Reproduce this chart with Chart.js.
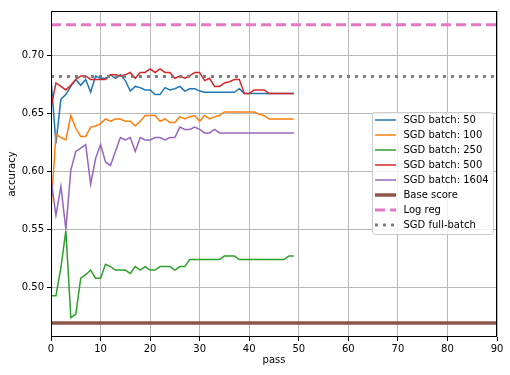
<!DOCTYPE html>
<html lang="en">

<head>
    <meta charset="UTF-8">
    <title>SGD accuracy by pass</title>
    <script src="https://cdn.jsdelivr.net/npm/chart.js"></script>
    <style>
        body { margin: 0; background: #fff; }
        #wrap { width: 510px; height: 375px; }
    </style>
</head>

<body>
    <div id="wrap"><canvas id="grafico" width="510" height="375"></canvas></div>

    <script>
        // pass numbers (x)
        const passes = [0, 1, 2, 3, 4, 5, 6, 7, 8, 9, 10, 11, 12, 13, 14, 15, 16, 17, 18, 19,
            20, 21, 22, 23, 24, 25, 26, 27, 28, 29, 30, 31, 32, 33, 34, 35, 36, 37, 38, 39,
            40, 41, 42, 43, 44, 45, 46, 47, 48, 49];

        // accuracy per pass, one array per batch size
        const batch50 = [0.680, 0.624, 0.662, 0.666, 0.673, 0.679, 0.674, 0.679, 0.668, 0.682,
            0.680, 0.680, 0.683, 0.680, 0.683, 0.678, 0.669, 0.673, 0.672, 0.670,
            0.670, 0.666, 0.666, 0.672, 0.670, 0.671, 0.673, 0.669, 0.671, 0.671,
            0.669, 0.668, 0.668, 0.668, 0.668, 0.668, 0.668, 0.668, 0.671, 0.667,
            0.667, 0.667, 0.667, 0.667, 0.667, 0.667, 0.667, 0.667, 0.667, 0.667];
        const batch100 = [0.567, 0.632, 0.629, 0.627, 0.648, 0.637, 0.630, 0.630, 0.638, 0.639,
            0.641, 0.645, 0.643, 0.645, 0.645, 0.643, 0.643, 0.639, 0.643, 0.648,
            0.648, 0.648, 0.643, 0.645, 0.642, 0.642, 0.647, 0.645, 0.647, 0.648,
            0.643, 0.648, 0.645, 0.647, 0.648, 0.651, 0.651, 0.651, 0.651, 0.651,
            0.651, 0.651, 0.649, 0.648, 0.645, 0.645, 0.645, 0.645, 0.645, 0.645];
        const batch250 = [0.493, 0.493, 0.517, 0.549, 0.474, 0.477, 0.508, 0.511, 0.515, 0.508,
            0.508, 0.520, 0.518, 0.515, 0.515, 0.515, 0.512, 0.518, 0.515, 0.518,
            0.515, 0.515, 0.518, 0.518, 0.518, 0.515, 0.518, 0.518, 0.524, 0.524,
            0.524, 0.524, 0.524, 0.524, 0.524, 0.527, 0.527, 0.527, 0.524, 0.524,
            0.524, 0.524, 0.524, 0.524, 0.524, 0.524, 0.524, 0.524, 0.527, 0.527];
        const batch500 = [0.655, 0.676, 0.673, 0.670, 0.674, 0.679, 0.682, 0.682, 0.679, 0.679,
            0.679, 0.679, 0.683, 0.683, 0.682, 0.683, 0.685, 0.680, 0.685, 0.685,
            0.688, 0.685, 0.688, 0.685, 0.685, 0.680, 0.682, 0.680, 0.682, 0.685,
            0.685, 0.678, 0.680, 0.673, 0.673, 0.676, 0.677, 0.679, 0.679, 0.667,
            0.667, 0.670, 0.670, 0.670, 0.667, 0.667, 0.667, 0.667, 0.667, 0.667];
        const batch1604 = [0.593, 0.562, 0.587, 0.550, 0.601, 0.617, 0.620, 0.623, 0.589, 0.611,
            0.623, 0.608, 0.605, 0.617, 0.629, 0.627, 0.629, 0.617, 0.629, 0.627,
            0.627, 0.629, 0.629, 0.627, 0.629, 0.629, 0.638, 0.636, 0.636, 0.638,
            0.636, 0.633, 0.633, 0.636, 0.633, 0.633, 0.633, 0.633, 0.633, 0.633,
            0.633, 0.633, 0.633, 0.633, 0.633, 0.633, 0.633, 0.633, 0.633, 0.633];

        // reference levels (drawn across the whole x range)
        const baseScore = 0.4695;
        const logReg = 0.7261;
        const fullBatch = 0.6815;

        const xRange = [0, 90];
        const xTicks = [0, 10, 20, 30, 40, 50, 60, 70, 80, 90];
        const yTicks = [0.50, 0.55, 0.60, 0.65, 0.70];

        const pts = (vals) => vals.map((v, i) => ({ x: passes[i], y: v }));
        const flat = (v) => xRange.map((x) => ({ x: x, y: v }));

        Chart.defaults.font.family = "'DejaVu Sans', sans-serif";
        Chart.defaults.font.size = 10;
        Chart.defaults.color = "#000";

        const series = [
            { label: "SGD batch: 50", data: pts(batch50), borderColor: "#1f77b4", borderWidth: 1.5 },
            { label: "SGD batch: 100", data: pts(batch100), borderColor: "#ff7f0e", borderWidth: 1.5 },
            { label: "SGD batch: 250", data: pts(batch250), borderColor: "#2ca02c", borderWidth: 1.5 },
            { label: "SGD batch: 500", data: pts(batch500), borderColor: "#d62728", borderWidth: 1.5 },
            { label: "SGD batch: 1604", data: pts(batch1604), borderColor: "#9467bd", borderWidth: 1.5 },
            { label: "Base score", data: flat(baseScore), borderColor: "#8c564b", borderWidth: 3.5 },
            { label: "Log reg", data: flat(logReg), borderColor: "#e377c2", borderWidth: 3, borderDash: [10, 5] },
            { label: "SGD full-batch", data: flat(fullBatch), borderColor: "#7f7f7f", borderWidth: 3, borderDash: [3, 5] },
        ];
        series.forEach((ds, i) => {
            ds.pointRadius = 0;
            ds.tension = 0;
            ds.fill = false;
            ds.order = series.length - i; // later ones on top
        });

        // frame around the plot area
        const frame = {
            id: "frame",
            afterDatasetsDraw(chart) {
                const { ctx, chartArea: a } = chart;
                ctx.save();
                ctx.strokeStyle = "#000";
                ctx.lineWidth = 1;
                const l = Math.round(a.left) + 0.5, t = Math.round(a.top) + 0.5;
                const r = Math.round(a.right) - 0.5, b = Math.round(a.bottom) - 0.5;
                ctx.strokeRect(l, t, r - l, b - t);
                ctx.restore();
            },
        };

        // matplotlib style legend box inside the axes
        const boxLegend = {
            id: "boxLegend",
            afterDraw(chart) {
                const ctx = chart.ctx;
                const x0 = 372, y0 = 112.5, w = 121, h = 122;
                ctx.save();
                ctx.fillStyle = "rgba(255,255,255,0.8)";
                ctx.strokeStyle = "#cccccc";
                ctx.lineWidth = 1;
                ctx.beginPath();
                ctx.roundRect(x0 + 0.5, y0, w, h, 2);
                ctx.fill();
                ctx.stroke();
                ctx.font = "10px 'DejaVu Sans', sans-serif";
                ctx.textBaseline = "middle";
                chart.data.datasets.forEach((ds, i) => {
                    const yy = 120 + i * 15;
                    ctx.strokeStyle = ds.borderColor;
                    ctx.lineWidth = ds.borderWidth;
                    ctx.setLineDash(ds.borderDash || []);
                    ctx.beginPath();
                    ctx.moveTo(375, yy);
                    ctx.lineTo(396, yy);
                    ctx.stroke();
                    ctx.setLineDash([]);
                    ctx.fillStyle = "#000";
                    ctx.fillText(ds.label, 403.5, yy);
                });
                ctx.restore();
            },
        };

        new Chart(document.getElementById("grafico"), {
            type: "line",
            data: { datasets: series },
            options: {
                responsive: false,
                animation: false,
                layout: { padding: { top: 11, right: 13, bottom: 0, left: 0 } },
                plugins: { legend: { display: false }, tooltip: { enabled: false } },
                scales: {
                    x: {
                        type: "linear",
                        min: xRange[0],
                        max: xRange[1],
                        afterBuildTicks: (s) => { s.ticks = xTicks.map((v) => ({ value: v })); },
                        afterFit: (s) => { s.height = 38; },
                        ticks: { padding: 2, maxRotation: 0, callback: (v) => String(v) },
                        grid: { color: "#b8b8b8", lineWidth: 1, tickColor: "#000", tickLength: 4 },
                        border: { display: false },
                        title: { display: true, text: "pass", padding: { top: 0, bottom: 9 } },
                    },
                    y: {
                        type: "linear",
                        min: 0.4574,
                        max: 0.7379,
                        afterBuildTicks: (s) => { s.ticks = yTicks.map((v) => ({ value: v })); },
                        afterFit: (s) => { s.width = 51; },
                        ticks: { padding: 3, callback: (v) => v.toFixed(2) },
                        grid: { color: "#b8b8b8", lineWidth: 1, tickColor: "#000", tickLength: 4 },
                        border: { display: false },
                        title: { display: true, text: "accuracy", padding: { top: 6, bottom: 0 } },
                    },
                },
            },
            plugins: [frame, boxLegend],
        });
    </script>
</body>

</html>
